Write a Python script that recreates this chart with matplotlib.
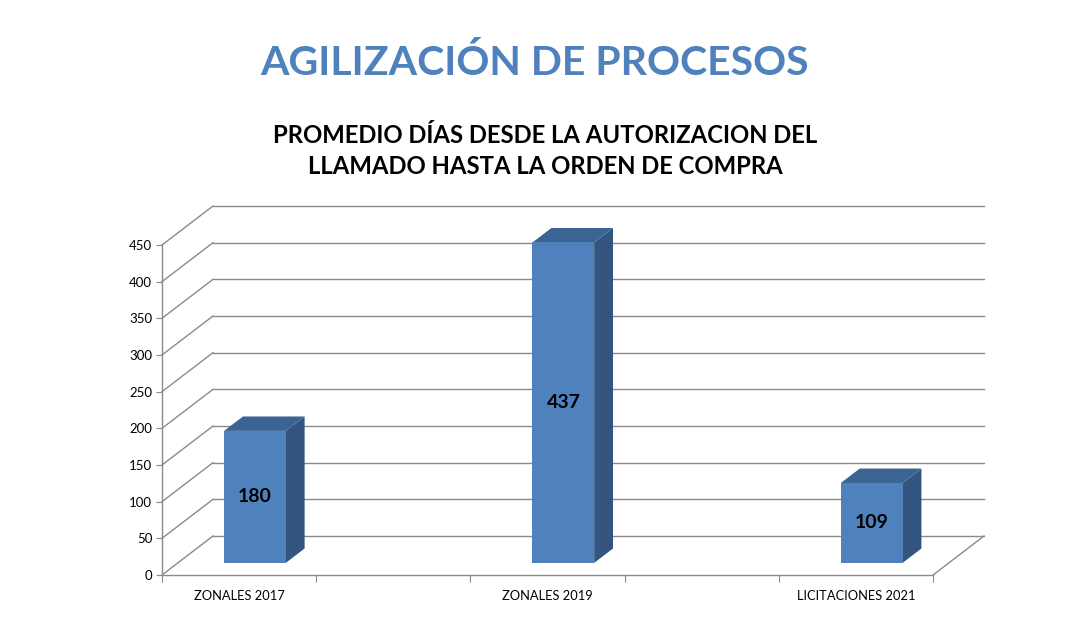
import matplotlib
matplotlib.use("Agg")
import matplotlib.pyplot as plt
from matplotlib.patches import Polygon

plt.rcParams['font.family'] = ['Lato', 'DejaVu Sans']

# datos
categorias = ["ZONALES 2017", "", "ZONALES 2019", "", "LICITACIONES 2021"]
valores = [180, None, 437, None, 109]
ticks_y = list(range(0, 451, 50))

titulo = "AGILIZACIÓN DE PROCESOS"
subtitulo = "PROMEDIO DÍAS DESDE LA AUTORIZACION DEL\nLLAMADO HASTA LA ORDEN DE COMPRA"

W, H = 1075, 639
fig = plt.figure(figsize=(W / 100, H / 100), dpi=100)
fig.patch.set_facecolor("white")

# ejes del plano frontal (pixeles medidos en la referencia)
x0, x1, y0, y1 = 162, 933, 575, 245
ax = fig.add_axes([x0 / W, 1 - y0 / H, (x1 - x0) / W, (y0 - y1) / H])
n = len(categorias)
ax.set_xlim(0, n)
ax.set_ylim(0, 450)

# desplazamiento de profundidad (oblicuo) en unidades de datos
px_x = (x1 - x0) / n
px_y = (y0 - y1) / 450
ddx = 51 / px_x
ddy = 39 / px_y

def proj(x, v, d):
    return (x + d * ddx, v + d * ddy)

gris = "#8a8a8a"

# pared del fondo y pared lateral
for v in ticks_y:
    a = proj(0, v, 1)
    b = proj(n, v, 1)
    ax.plot([a[0], b[0]], [a[1], b[1]], color=gris, lw=1, clip_on=False)
    f = proj(0, v, 0)
    ax.plot([f[0], a[0]], [f[1], a[1]], color=gris, lw=1, clip_on=False)
# piso, borde derecho
a = proj(n, 0, 0)
b = proj(n, 0, 1)
ax.plot([a[0], b[0]], [a[1], b[1]], color=gris, lw=1, clip_on=False)

# barras 3D
c_front = "#4f81bd"
c_top = "#3b6494"
c_side = "#33557f"
ancho = 0.4
d_f, d_b = 0.31, 0.68
for i, val in enumerate(valores):
    if val is None:
        continue
    xl = i + 0.5 - ancho / 2
    xr = i + 0.5 + ancho / 2
    front = [proj(xl, 0, d_f), proj(xr, 0, d_f), proj(xr, val, d_f), proj(xl, val, d_f)]
    side = [proj(xr, 0, d_f), proj(xr, 0, d_b), proj(xr, val, d_b), proj(xr, val, d_f)]
    top = [proj(xl, val, d_f), proj(xr, val, d_f), proj(xr, val, d_b), proj(xl, val, d_b)]
    for pts, col in ((side, c_side), (top, c_top), (front, c_front)):
        ax.add_patch(Polygon(pts, closed=True, facecolor=col, edgecolor="none", clip_on=False, zorder=3))
    cx, cy = proj(i + 0.5, val / 2, d_f)
    ax.text(cx, cy, str(val), ha="center", va="center", fontsize=14,
            fontweight="bold", color="black", zorder=4)

# ejes frontales
for s in ("top", "right"):
    ax.spines[s].set_visible(False)
for s in ("left", "bottom"):
    ax.spines[s].set_color(gris)
    ax.spines[s].set_linewidth(1)
ax.patch.set_alpha(0)
ax.set_yticks(ticks_y)
ax.tick_params(axis="y", length=4, color=gris, labelsize=9.5, pad=3)
ax.set_xticks(range(n + 1))
ax.set_xticklabels([])
ax.tick_params(axis="x", which="major", length=5, color=gris)
ax.set_xticks([i + 0.5 for i in range(n)], minor=True)
ax.set_xticklabels(categorias, minor=True, fontsize=9.3)
ax.tick_params(axis="x", which="minor", length=0, pad=11)

fig.text(535 / W, 1 - 63 / H, titulo, ha="center", va="center", fontsize=29.5,
         fontweight="bold", color="#4f81bd")
fig.text(545 / W, 1 - 151 / H, subtitulo, ha="center", va="center", fontsize=17.2,
         fontweight="bold", color="black", linespacing=1.4)

fig.savefig("out.png", dpi=100)
